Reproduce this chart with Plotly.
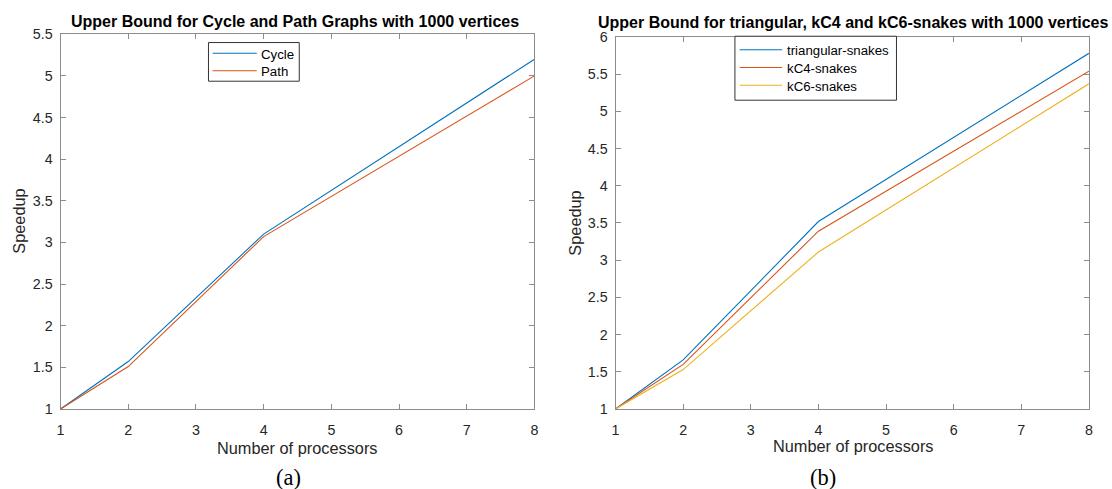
import plotly.graph_objects as go

# ---- data ----
processors = [1, 2, 4, 8]
cycle = [1.0, 1.57, 3.10, 5.20]
path = [1.0, 1.51, 3.07, 5.00]
triangular = [1.0, 1.66, 3.52, 5.78]
kc4 = [1.0, 1.60, 3.39, 5.54]
kc6 = [1.0, 1.53, 3.11, 5.37]

x_ticks = [1, 2, 3, 4, 5, 6, 7, 8]
y_ticks_a = [1, 1.5, 2, 2.5, 3, 3.5, 4, 4.5, 5, 5.5]
y_ticks_b = [1, 1.5, 2, 2.5, 3, 3.5, 4, 4.5, 5, 5.5, 6]

names_a = ["Cycle", "Path"]
names_b = ["triangular-snakes", "kC4-snakes", "kC6-snakes"]

BLUE, ORANGE, YELLOW = "#0072BD", "#D95319", "#EDB120"

# mapping from target picture pixels to figure pixels (measured on the rendered page)
OFF = 8
TW, TH = 1112, 489
KX, CX = 0.992, 4.0
SY = TH / (TH + 2 * OFF)
FW, FH = TW + OFF, TH + OFF
FS = 1.02  # font scale

AXC = "#8c8c8c"
TXT = "#262626"
FONT = "Liberation Sans, Arial, sans-serif"
SERIF = "Liberation Serif, Times New Roman, serif"


def px_x(p):
    return ((p - CX) / KX) / FW


def px_y(p):
    return 1 - (p / SY - OFF) / FH


fig = go.Figure()
series_a = [(cycle, BLUE), (path, ORANGE)]
series_b = [(triangular, BLUE), (kc4, ORANGE), (kc6, YELLOW)]
for (vals, col), nm in zip(series_a, names_a):
    fig.add_trace(go.Scatter(x=processors, y=vals, mode="lines", name=nm, showlegend=False,
                             line=dict(color=col, width=1.1), xaxis="x", yaxis="y"))
for (vals, col), nm in zip(series_b, names_b):
    fig.add_trace(go.Scatter(x=processors, y=vals, mode="lines", name=nm, showlegend=False,
                             line=dict(color=col, width=1.1), xaxis="x2", yaxis="y2"))

axis_common = dict(showgrid=False, zeroline=False, showline=True, linecolor=AXC, linewidth=1,
                   mirror="ticks", ticks="inside", ticklen=5, tickcolor=AXC,
                   tickfont=dict(family=FONT, size=14 * FS, color=TXT))

fig.update_layout(
    width=FW, height=FH, autosize=False,
    margin=dict(l=0, r=0, t=0, b=0, pad=0),
    paper_bgcolor="white", plot_bgcolor="white",
    font=dict(family=FONT, color=TXT),
    showlegend=False,
    xaxis=dict(domain=[px_x(60.5), px_x(534)], range=[1, 8], tickvals=x_ticks, anchor="y",
               ticklabelstandoff=8, **axis_common),
    yaxis=dict(domain=[px_y(409), px_y(34)], range=[1, 5.5], tickvals=y_ticks_a,
               ticktext=[f"{v:g}" for v in y_ticks_a], anchor="x", ticklabelstandoff=4, **axis_common),
    xaxis2=dict(domain=[px_x(615), px_x(1088)], range=[1, 8], tickvals=x_ticks, anchor="y2",
                ticklabelstandoff=8, **axis_common),
    yaxis2=dict(domain=[px_y(409), px_y(36.7)], range=[1, 6], tickvals=y_ticks_b,
                ticktext=[f"{v:g}" for v in y_ticks_b], anchor="x2", ticklabelstandoff=4, **axis_common),
)


def label(text, x, y, size, family=FONT, color=TXT, angle=0, xanchor="center"):
    return dict(text=text, x=px_x(x), y=px_y(y), xref="paper", yref="paper",
                xanchor=xanchor, yanchor="middle", showarrow=False, textangle=angle,
                font=dict(family=family, size=size, color=color))


ann = [
    label("<b>Upper Bound for Cycle and Path Graphs with 1000 vertices</b>", 295, 21, 16, color="#000"),
    label("<b>Upper Bound for triangular, kC4 and kC6-snakes with 1000 vertices</b>", 852, 22, 16, color="#000"),
    label("Number of processors", 297, 447.5, 16 * FS),
    label("Number of processors", 852, 446, 16 * FS),
    label("Speedup", 19, 221.5, 16 * FS, angle=-90),
    label("Speedup", 575, 223, 16 * FS, angle=-90),
    label("(a)", 288, 477, 22 * FS, family=SERIF, color="#000"),
    label("(b)", 822, 477, 22 * FS, family=SERIF, color="#000"),
]

shapes = []


def add_legend(box, line_x, text_x, rows, names, colors):
    x0, y0, x1, y1 = box
    shapes.append(dict(type="rect", xref="paper", yref="paper",
                       x0=px_x(x0), x1=px_x(x1), y0=px_y(y1), y1=px_y(y0),
                       line=dict(color="#333333", width=1), fillcolor="white", layer="above"))
    for yy, nm, col in zip(rows, names, colors):
        shapes.append(dict(type="line", xref="paper", yref="paper",
                           x0=px_x(line_x[0]), x1=px_x(line_x[1]), y0=px_y(yy), y1=px_y(yy),
                           line=dict(color=col, width=1.1), layer="above"))
        ann.append(label(nm, text_x, yy + 0.8, 13 * FS, color="#000", xanchor="left"))


add_legend((208.3, 42.3, 299, 81), (212.5, 256.5), 258.5, [53, 70.5], names_a, [BLUE, ORANGE])
add_legend((734.3, 36, 895.7, 100), (739, 781.5), 784, [49.5, 67.3, 85], names_b, [BLUE, ORANGE, YELLOW])

fig.update_layout(annotations=ann, shapes=shapes)

fig.write_html("out.html")
